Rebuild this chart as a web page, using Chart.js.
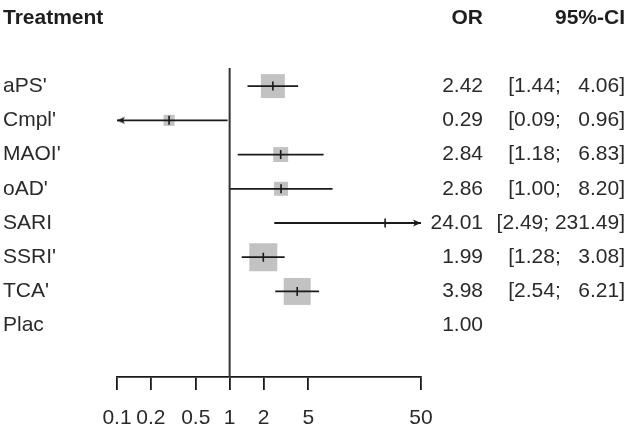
<!DOCTYPE html>
<html><head><meta charset="utf-8">
<script src="https://cdn.jsdelivr.net/npm/chart.js@4/dist/chart.umd.min.js"></script>
<style>html,body{margin:0;padding:0;background:#fff}#wrap{width:642px;height:429px;position:relative}</style>
</head><body><div id="wrap"><canvas id="c"></canvas></div>
<script>
const treatments = ["aPS'", "Cmpl'", "MAOI'", "oAD'", "SARI", "SSRI'", "TCA'", "Plac"];
const orValues = [2.42, 0.29, 2.84, 2.86, 24.01, 1.99, 3.98, 1.00];
const ciLower = [1.44, 0.09, 1.18, 1.00, 2.49, 1.28, 2.54, null];
const ciUpper = [4.06, 0.96, 6.83, 8.20, 231.49, 3.08, 6.21, null];
const weights = [21.8, 4.6, 8.5, 7.4, 0.3, 29.7, 27.6, null];
const xTickValues = [0.1, 0.2, 0.5, 1, 2, 5, 50];
const headers = ["Treatment", "OR", "95%-CI"];

const X_MIN = 0.1, X_MAX = 50;
const FONT = "'Liberation Sans', Arial, sans-serif";
const FS = 21;
const TXT = '#2a2a2a';
const LINE = '#1a1a1a';

function arrowImg(dir) {
  const c = document.createElement('canvas');
  c.width = 22; c.height = 10;
  const g = c.getContext('2d');
  g.fillStyle = LINE;
  g.beginPath();
  if (dir < 0) { g.moveTo(11, 5); g.lineTo(19, 1.5); g.lineTo(17, 5); g.lineTo(19, 8.5); }
  else { g.moveTo(11, 5); g.lineTo(3, 1.5); g.lineTo(5, 5); g.lineTo(3, 8.5); }
  g.closePath(); g.fill();
  return c;
}
const arrowLeft = arrowImg(-1), arrowRight = arrowImg(1);

const maxW = Math.max(...weights.filter(w => w != null));
const datasets = [];

// reference line at OR = 1
datasets.push({ type: 'line', data: [{x: 1, y: -0.53}, {x: 1, y: 8.5}], clip: false, borderColor: '#333', borderWidth: 2, pointRadius: 0, order: 1 });

// boxes
const boxRadius = ctx => { const i = ctx.raw ? ctx.raw.y : 0; return (28 * Math.sqrt(weights[i] / maxW)) / 1.414; };
datasets.push({
  type: 'scatter', order: 5,
  data: treatments.map((t, i) => weights[i] == null ? null : ({x: orValues[i], y: i})).filter(Boolean),
  pointStyle: 'rect', backgroundColor: '#c2c2c2', borderWidth: 0,
  pointRadius: boxRadius, pointHoverRadius: boxRadius
});

// CI lines (clipped at axis limits) + arrows
const arrowPts = [];
treatments.forEach((t, i) => {
  if (ciLower[i] == null) return;
  const lo = Math.max(ciLower[i], X_MIN), hi = Math.min(ciUpper[i], X_MAX);
  datasets.push({ type: 'line', data: [{x: lo, y: i}, {x: hi, y: i}], borderColor: LINE, borderWidth: 1.8, pointRadius: 0, order: 3 });
  if (ciLower[i] < X_MIN) arrowPts.push({x: X_MIN, y: i, dir: -1});
  if (ciUpper[i] > X_MAX) arrowPts.push({x: X_MAX, y: i, dir: 1});
});
datasets.push({
  type: 'scatter', order: 2, data: arrowPts, clip: false,
  pointStyle: ctx => (ctx.raw && ctx.raw.dir < 0) ? arrowLeft : arrowRight,
  pointRadius: 5
});

// estimate tick marks
datasets.push({
  type: 'scatter', order: 0,
  data: treatments.map((t, i) => weights[i] == null ? null : ({x: orValues[i], y: i})).filter(Boolean),
  pointStyle: 'line', rotation: 90, pointRadius: 4.5, borderColor: LINE, borderWidth: 1.6
});

const textPlugin = {
  id: 'forestText',
  beforeDraw(chart) {
    const c = chart.ctx; c.save(); c.fillStyle = '#fff'; c.fillRect(0, 0, chart.width, chart.height); c.restore();
  },
  afterDraw(chart) {
    const c = chart.ctx, ys = chart.scales.y;
    c.save();
    c.textBaseline = 'middle';
    c.fillStyle = '#1e1e1e';
    c.font = `bold ${FS}px ${FONT}`;
    c.textAlign = 'left'; c.fillText(headers[0], 3, 18);
    c.textAlign = 'right'; c.fillText(headers[1], 483, 18); c.fillText(headers[2], 625, 18);
    c.font = `${FS}px ${FONT}`;
    c.fillStyle = TXT;
    const upW = Math.max(...ciUpper.filter(v => v != null).map(v => v.toFixed(2).length));
    const loW = Math.max(...ciLower.filter(v => v != null).map(v => v.toFixed(2).length));
    treatments.forEach((t, i) => {
      const y = ys.getPixelForValue(i);
      c.textAlign = 'left'; c.fillText(t, 3, y);
      c.textAlign = 'right'; c.fillText(orValues[i].toFixed(2), 483, y);
      if (ciLower[i] != null) {
        const lo = ciLower[i].toFixed(2).padStart(loW, ' ');
        const hi = ciUpper[i].toFixed(2).padStart(upW, ' ');
        c.fillText('[' + lo + '; ' + hi + ']', 625, y);
      }
    });
    c.restore();
  }
};

new Chart(document.getElementById('c'), {
  data: { datasets },
  options: {
    responsive: true, maintainAspectRatio: false, animation: false,
    layout: { padding: { left: 117, right: 221, top: 69, bottom: 0 } },
    plugins: { legend: { display: false }, tooltip: { enabled: false } },
    scales: {
      x: {
        type: 'logarithmic', min: X_MIN, max: X_MAX, position: 'bottom',
        border: { display: true, color: LINE, width: 1.8 },
        grid: { display: true, drawOnChartArea: false, drawTicks: true, tickLength: 13, tickColor: LINE, lineWidth: 1.8 },
        ticks: { autoSkip: false, maxRotation: 0, minRotation: 0, padding: 16, color: TXT, font: { family: FONT, size: FS }, callback: v => String(v) },
        afterBuildTicks: s => { s.ticks = xTickValues.map(v => ({value: v})); },
        afterFit: s => { s.height = 52; }
      },
      y: { type: 'linear', min: -0.5, max: 8.5, reverse: true, display: false }
    }
  },
  plugins: [textPlugin]
});
</script></body></html>
